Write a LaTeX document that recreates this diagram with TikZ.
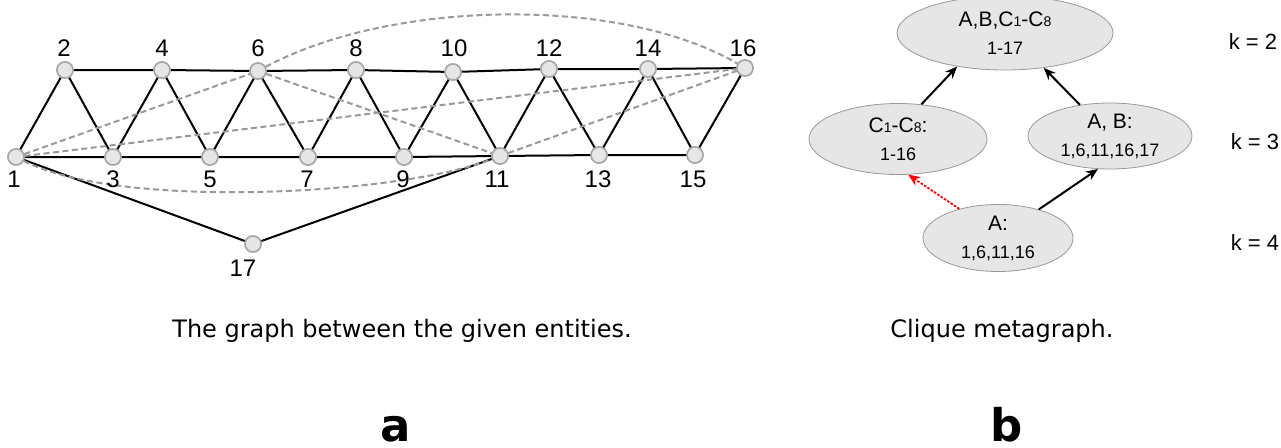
\documentclass[tikz,border=0pt]{standalone}
\usepackage{fontspec}
\setmainfont{Liberation Sans}
\newfontfamily\dejavu{DejaVu Sans}
\usetikzlibrary{arrows.meta,shapes.geometric}
\definecolor{vfill}{HTML}{E6E6E6}
\definecolor{vline}{HTML}{A6A6A6}
\definecolor{dline}{HTML}{999999}
\newcommand\smd[1]{{\fontsize{14}{14}\selectfont #1}}
\newcommand\numfont{\fontsize{18}{18}\selectfont}
\tikzset{
  vtx/.style={circle,fill=vfill,draw=vline,line width=1.5pt,minimum size=16pt,inner sep=0pt},
  lbl/.style={inner sep=0pt,font=\fontsize{24}{24}\selectfont},
  edge/.style={line width=2pt,black},
  dedge/.style={line width=2pt,dline,dash pattern=on 6pt off 3.5pt},
  ell/.style={ellipse,fill=vfill,draw=dline,line width=0.8pt,inner sep=0pt,align=center,
              font=\fontsize{21}{28}\selectfont,yshift=4pt},
  arr/.style={line width=2pt,-{Stealth[length=12pt,width=10pt]}},
  rarr/.style={line width=1.8pt,red,dash pattern=on 2.5pt off 1.5pt,-{Stealth[length=12pt,width=10pt]}},
  klbl/.style={inner sep=0pt,font=\fontsize{22}{22}\selectfont},
  captxt/.style={inner sep=0pt,font=\dejavu\fontsize{24}{24}\selectfont,anchor=base},
  bigtxt/.style={inner sep=0pt,font=\dejavu\bfseries\fontsize{45}{45}\selectfont,anchor=base}
}
\begin{document}
\begin{tikzpicture}[x=1pt,y=-1pt]
\useasboundingbox (0,0) rectangle (1281,447);
% vertices
\node[vtx] (n1) at (16,157) {};
\node[vtx] (n2) at (65,70) {};
\node[vtx] (n3) at (113,157) {};
\node[vtx] (n4) at (162,70) {};
\node[vtx] (n5) at (210,157) {};
\node[vtx] (n6) at (258,71) {};
\node[vtx] (n7) at (308,157) {};
\node[vtx] (n8) at (356,70) {};
\node[vtx] (n9) at (404,157) {};
\node[vtx] (n10) at (453,72) {};
\node[vtx] (n11) at (500,156) {};
\node[vtx] (n12) at (549,69) {};
\node[vtx] (n13) at (599,155) {};
\node[vtx] (n14) at (648,69) {};
\node[vtx] (n15) at (695,155) {};
\node[vtx] (n16) at (745,68) {};
\node[vtx] (n17) at (253,244) {};
% solid edges
\draw[edge] (n2)--(n4)--(n6)--(n8)--(n10)--(n12)--(n14)--(n16);
\draw[edge] (n1)--(n3)--(n5)--(n7)--(n9)--(n11)--(n13)--(n15);
\draw[edge] (n1)--(n2)--(n3)--(n4)--(n5)--(n6)--(n7)--(n8)--(n9)--(n10)--(n11)--(n12)--(n13)--(n14)--(n15)--(n16);
\draw[edge] (n1)--(n17)--(n11);
% dashed edges
\draw[dedge] (n1)--(n6);
\draw[dedge] (n1)--(n16);
\draw[dedge] (n6)--(n11);
\draw[dedge] (n11)--(n16);
\draw[dedge] (n1) .. controls (120,210) and (400,195) .. (n11);
\draw[dedge] (n6) .. controls (390,0) and (620,-5) .. (n16);
% redraw vertices on top
\foreach \i in {1,...,17} {\node[vtx] at (n\i) {};}
% labels
\node[lbl] (t2) at (64,48) {2};
\node[lbl] (t4) at (162,48) {4};
\node[lbl] (t6) at (258,48) {6};
\node[lbl] (t8) at (356,48) {8};
\node[lbl] (t10) at (454,48) {10};
\node[lbl] (t12) at (549,48) {12};
\node[lbl] (t14) at (648,48) {14};
\node[lbl] (t16) at (743,48) {16};
\node[lbl] (t1) at (14,179) {1};
\node[lbl] (t3) at (113,179) {3};
\node[lbl] (t5) at (210,179) {5};
\node[lbl] (t7) at (307,179) {7};
\node[lbl] (t9) at (403,179) {9};
\node[lbl] (t11) at (497,179) {11};
\node[lbl] (t13) at (598,179) {13};
\node[lbl] (t15) at (693,179) {15};
\node[lbl] (t17) at (243,268) {17};
% metagraph
\node[ell,minimum width=216pt,minimum height=74pt] (top) at (1005,37)
  {A,B,C\smd{1}-C\smd{8}\\{\numfont 1-17}};
\node[ell,minimum width=178pt,minimum height=71pt] (c18) at (898,143)
  {C\smd{1}-C\smd{8}:\\{\numfont 1-16}};
\node[ell,minimum width=164pt,minimum height=66pt] (ab) at (1110,140)
  {A, B:\\{\numfont 1,6,11,16,17}};
\node[ell,minimum width=150pt,minimum height=67pt] (a) at (998,242)
  {A:\\{\numfont 1,6,11,16}};
\draw[arr] (c18.56) -- (top.215);
\draw[arr] (ab.134) -- (top.318);
\draw[arr] (a.35) -- (ab.250);
\draw[rarr] (a.143) -- (c18.286);
\node[klbl] (k2) at (1253,42) {k = 2};
\node[klbl] (k3) at (1255,142) {k = 3};
\node[klbl] (k4) at (1255,243) {k = 4};
% captions
\node[captxt] (capa) at (402,337) {The graph between the given entities.};
\node[captxt] (capb) at (1002,337) {Clique metagraph.};
\node[bigtxt] (la) at (396,441) {a};
\node[bigtxt] (lb) at (1007,441) {b};
\end{tikzpicture}
\end{document}
